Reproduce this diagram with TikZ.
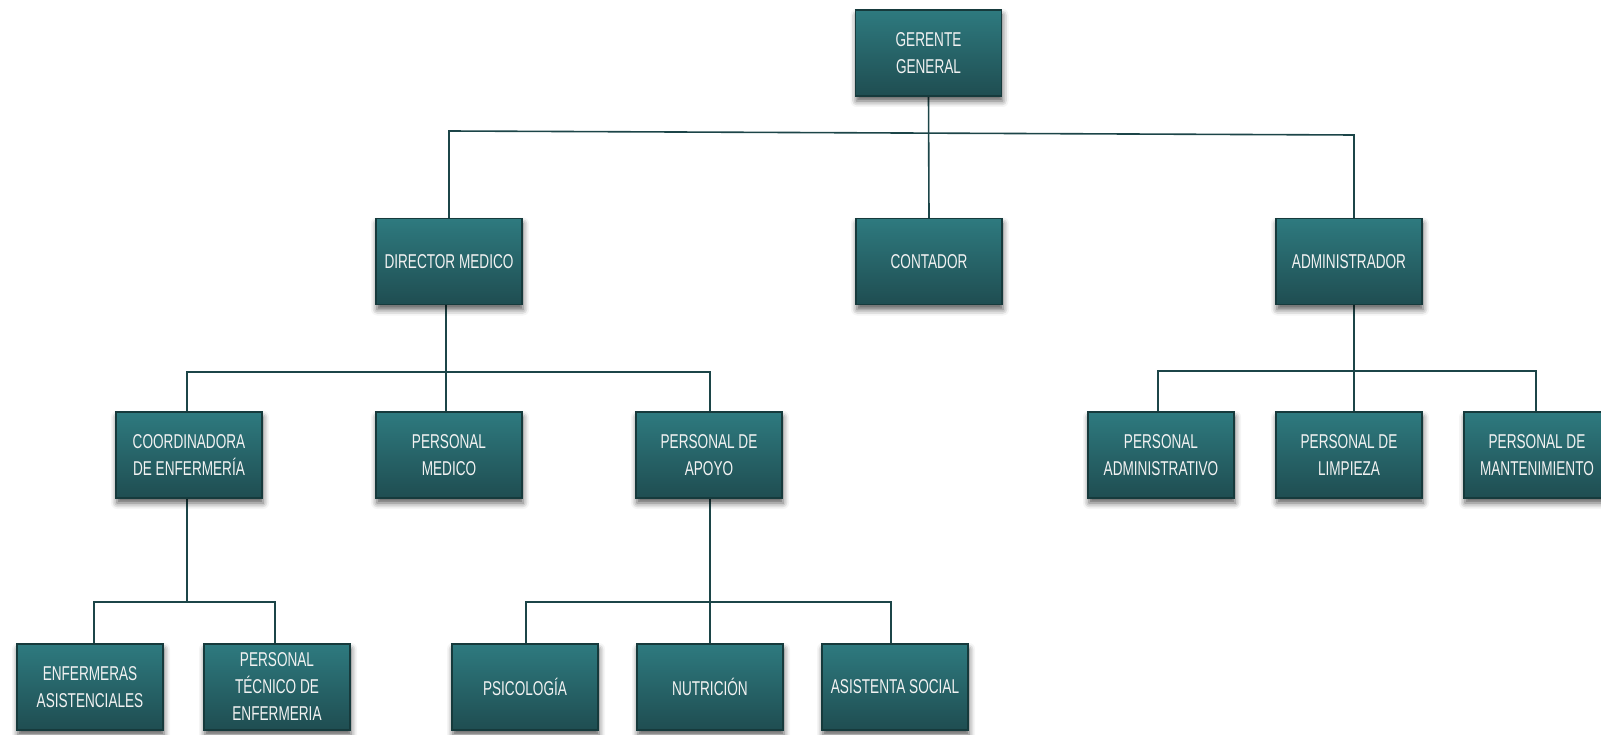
\documentclass[tikz,border=0pt]{standalone}
\usepackage{fontspec}
\newfontfamily\boxfont{Liberation Sans}[FakeStretch=0.68]
\usetikzlibrary{shadows.blur,backgrounds}
\definecolor{boxtop}{HTML}{2E7A7F}
\definecolor{boxbot}{HTML}{1F4D51}
\definecolor{boxline}{HTML}{163A3C}
\definecolor{conn}{HTML}{1C4548}
\definecolor{boxtext}{HTML}{F2F2F2}
\tikzset{
  orgbox/.style={draw=boxline, line width=1.3pt, top color=boxtop, bottom color=boxbot,
    minimum width=146pt, minimum height=86pt, inner sep=0pt, align=center,
    text=boxtext, font=\boxfont\fontsize{20}{27}\selectfont,
    blur shadow={shadow xshift=1pt, shadow yshift=-5pt, shadow blur radius=6pt, shadow opacity=65}},
  connline/.style={draw=conn, line width=1.6pt}
}
\begin{document}
\begin{tikzpicture}[x=1pt,y=-1pt]
\useasboundingbox (0,0) rectangle (1601,735);
% level 1
\node[orgbox] (ger) at (928.5,53) {GERENTE\\GENERAL};
% level 2
\node[orgbox] (dir) at (449,261.5) {DIRECTOR MEDICO};
\node[orgbox] (cont) at (929,261.5) {CONTADOR};
\node[orgbox] (adm) at (1349,261.5) {ADMINISTRADOR};
% level 3
\node[orgbox] (coord) at (189,455) {COORDINADORA\\DE ENFERMERÍA};
\node[orgbox] (pmed) at (449,455) {PERSONAL\\MEDICO};
\node[orgbox] (apoyo) at (709,455) {PERSONAL DE\\APOYO};
\node[orgbox] (padm) at (1161,455) {PERSONAL\\ADMINISTRATIVO};
\node[orgbox] (plim) at (1349,455) {PERSONAL DE\\LIMPIEZA};
\node[orgbox] (pman) at (1537,455) {PERSONAL DE\\MANTENIMIENTO};
% level 4
\node[orgbox] (enf) at (90,687) {ENFERMERAS\\ASISTENCIALES};
\node[orgbox] (tec) at (277,687) {PERSONAL\\TÉCNICO DE\\ENFERMERIA};
\node[orgbox] (psi) at (525,687) {PSICOLOGÍA};
\node[orgbox] (nut) at (710,687) {NUTRICIÓN};
\node[orgbox] (asis) at (895,687) {ASISTENTA SOCIAL};
% junction coordinates
\coordinate (t1) at (449,131);
\coordinate (t2) at (1354,135);
\coordinate (m1) at (187,372);
\coordinate (m2) at (710,372);
\coordinate (a1) at (1158,371);
\coordinate (a2) at (1536,371);
\coordinate (c1) at (94,602);
\coordinate (c2) at (275,602);
\coordinate (p1) at (526,602);
\coordinate (p2) at (891,602);
\begin{scope}[on background layer]
\draw[connline] (ger.south) -- (cont.north);
\draw[connline] (dir.north) -- (t1) -- (t2) -- (adm.north -| t2);
\draw[connline] ([xshift=-3pt]dir.south) -- ([xshift=-3pt]pmed.north);
\draw[connline] (coord.north -| m1) -- (m1) -- (m2) -- (apoyo.north -| m2);
\draw[connline] (adm.south -| t2) -- (plim.north -| t2);
\draw[connline] (padm.north -| a1) -- (a1) -- (a2) -- (pman.north -| a2);
\draw[connline] (coord.south -| m1) -- (m1 |- c1);
\draw[connline] (enf.north -| c1) -- (c1) -- (c2) -- (tec.north -| c2);
\draw[connline] (apoyo.south -| m2) -- (nut.north -| m2);
\draw[connline] (psi.north -| p1) -- (p1) -- (p2) -- (asis.north -| p2);
\end{scope}
\end{tikzpicture}
\end{document}
